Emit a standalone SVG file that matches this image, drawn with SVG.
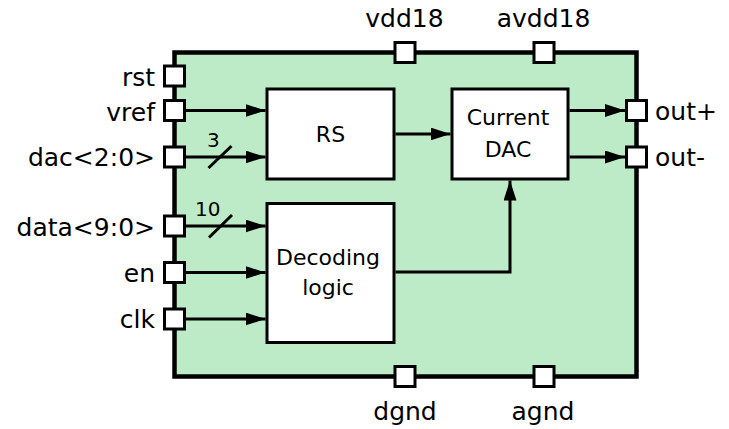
<svg xmlns="http://www.w3.org/2000/svg" width="729" height="429" viewBox="0 0 729 429">
<defs>
<marker id="arr" markerUnits="userSpaceOnUse" markerWidth="20" markerHeight="13" refX="20" refY="6.5" orient="auto">
<path d="M0,0 L20,6.5 L0,13 z" fill="#000"/>
</marker>
<style>
.lbl{font-family:"DejaVu Sans",sans-serif;font-size:25px;fill:#000}
.blk{font-family:"DejaVu Sans",sans-serif;font-size:22px;fill:#000;text-anchor:middle}
.bus{font-family:"DejaVu Sans",sans-serif;font-size:20px;fill:#000}
.pin{fill:#fff;stroke:#000;stroke-width:3}
.box{fill:#fff;stroke:#000;stroke-width:3}
.wire{fill:none;stroke:#000;stroke-width:3}
</style>
</defs>
<rect width="729" height="429" fill="#fff"/>
<g id="chip">
<rect x="174.5" y="52.5" width="462" height="324" fill="#bdebc8" stroke="#000" stroke-width="4.5"/>
</g>
<g id="rs"><rect class="box" x="267" y="89" width="127" height="90"/><text class="blk" x="330.5" y="142">RS</text></g>
<g id="dac"><rect class="box" x="452" y="89" width="116" height="90"/><text class="blk" x="508" y="125">Current</text><text class="blk" x="508" y="157">DAC</text></g>
<g id="decoder"><rect class="box" x="267" y="203.5" width="127" height="139"/><text class="blk" x="328" y="265">Decoding</text><text class="blk" x="328" y="295">logic</text></g>
<g id="connectors">
<path class="wire" d="M186 110.5H265.5" marker-end="url(#arr)"/>
<path class="wire" d="M186 157H265.5" marker-end="url(#arr)"/>
<path class="wire" d="M186 226H265.5" marker-end="url(#arr)"/>
<path class="wire" d="M186 272.5H265.5" marker-end="url(#arr)"/>
<path class="wire" d="M186 319H265.5" marker-end="url(#arr)"/>
<path class="wire" d="M395.5 134H450.5" marker-end="url(#arr)"/>
<path class="wire" d="M395.5 272H510V180.5" marker-end="url(#arr)"/>
<path class="wire" d="M569.5 110.5H625" marker-end="url(#arr)"/>
<path class="wire" d="M569.5 157H625" marker-end="url(#arr)"/>
<path class="wire" d="M208.5 168L231.5 146"/>
<path class="wire" d="M209 237.5L232 215"/>
<text class="bus" x="207" y="147">3</text>
<text class="bus" x="195" y="216">10</text>
</g>
<g id="pin-rst"><rect class="pin" x="164.5" y="66" width="20" height="20"/><text class="lbl" x="155" y="85.5" text-anchor="end">rst</text></g>
<g id="pin-vref"><rect class="pin" x="164.5" y="100.5" width="20" height="20"/><text class="lbl" x="155" y="120.5" text-anchor="end">vref</text></g>
<g id="pin-dac"><rect class="pin" x="164.5" y="147" width="20" height="20"/><text class="lbl" x="155" y="166" text-anchor="end">dac&lt;2:0&gt;</text></g>
<g id="pin-data"><rect class="pin" x="164.5" y="216" width="20" height="20"/><text class="lbl" x="155" y="235.5" text-anchor="end">data&lt;9:0&gt;</text></g>
<g id="pin-en"><rect class="pin" x="164.5" y="262.5" width="20" height="20"/><text class="lbl" x="155" y="281.5" text-anchor="end">en</text></g>
<g id="pin-clk"><rect class="pin" x="164.5" y="309" width="20" height="20"/><text class="lbl" x="155" y="328" text-anchor="end">clk</text></g>
<g id="pin-vdd18"><rect class="pin" x="395" y="42.5" width="20" height="20"/><text class="lbl" x="404.5" y="27" text-anchor="middle">vdd18</text></g>
<g id="pin-avdd18"><rect class="pin" x="534" y="42.5" width="20" height="20"/><text class="lbl" x="543.5" y="27" text-anchor="middle">avdd18</text></g>
<g id="pin-dgnd"><rect class="pin" x="395" y="366.5" width="20" height="20"/><text class="lbl" x="405" y="420" text-anchor="middle">dgnd</text></g>
<g id="pin-agnd"><rect class="pin" x="534" y="366.5" width="20" height="20"/><text class="lbl" x="543" y="420" text-anchor="middle">agnd</text></g>
<g id="pin-outp"><rect class="pin" x="626.5" y="100.5" width="20" height="20"/><text class="lbl" x="655" y="120">out+</text></g>
<g id="pin-outm"><rect class="pin" x="626.5" y="147" width="20" height="20"/><text class="lbl" x="655" y="166">out-</text></g>
</svg>
